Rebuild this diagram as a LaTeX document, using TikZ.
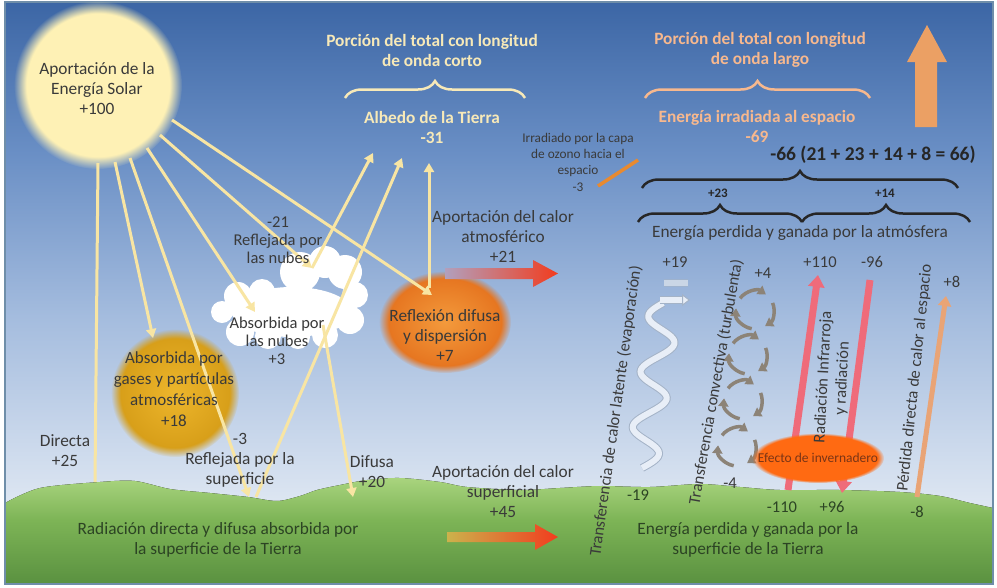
\documentclass[tikz,border=0pt]{standalone}
\usepackage{fontspec}
\setmainfont{Carlito}
\usetikzlibrary{arrows.meta,decorations.pathreplacing,fadings}

\definecolor{ink}{HTML}{3A3A3A}
\definecolor{groundink}{HTML}{2C4424}
\definecolor{cream}{HTML}{F7E9B8}
\definecolor{peach}{HTML}{F7B88E}
\definecolor{ray}{HTML}{F8E5A3}
\definecolor{sunfill}{HTML}{FEF1B5}
\definecolor{skyA}{HTML}{3C66A5}
\definecolor{skyB}{HTML}{6A8FC5}
\definecolor{skyC}{HTML}{A4BCDE}
\definecolor{skyD}{HTML}{DDE6F2}
\definecolor{skyE}{HTML}{EEF2F8}
\definecolor{grassA}{HTML}{A9D47E}
\definecolor{grassB}{HTML}{7DB456}
\definecolor{grassC}{HTML}{5A9140}
\definecolor{goldA}{HTML}{EDB62C}
\definecolor{goldB}{HTML}{D49B16}
\definecolor{orangeA}{HTML}{F39A3C}
\definecolor{orangeB}{HTML}{E4701C}
\definecolor{hotorange}{HTML}{FF6A12}
\definecolor{heatred}{HTML}{F23C1E}
\definecolor{irred}{HTML}{EF6B7A}
\definecolor{lossarrow}{HTML}{E9A476}
\definecolor{upfill}{HTML}{EBA064}
\definecolor{ozone}{HTML}{E88A30}
\definecolor{convgray}{HTML}{8C8377}
\definecolor{latentedge}{HTML}{A4B3C7}
\definecolor{latentfill}{HTML}{E8EEF7}
\definecolor{greenhouseink}{HTML}{7A3516}
\definecolor{frame}{HTML}{6F8EA9}

\pgfdeclareverticalshading{skygrad}{100bp}{color(0bp)=(skyE); color(25bp)=(skyE); color(32bp)=(skyD); color(48bp)=(skyC); color(62bp)=(skyB); color(75bp)=(skyA); color(100bp)=(skyA)}
\pgfdeclareverticalshading{grassgrad}{100bp}{color(0bp)=(grassC); color(25bp)=(grassC); color(55bp)=(grassB); color(75bp)=(grassA); color(100bp)=(grassA)}

\newcommand\txtsize[2]{\fontsize{#1}{#2}\selectfont}

\tikzset{
  lbl/.style={font=\txtsize{17.3}{20}, text=ink, align=center, inner sep=0pt},
  glbl/.style={lbl, text=groundink},
  ttl/.style={font=\txtsize{17.3}{20}\bfseries, align=center, inner sep=0pt},
  smalllbl/.style={font=\txtsize{13.3}{16.3}, text=ink, align=center, inner sep=0pt},
  numlbl/.style={font=\txtsize{16.5}{18}, text=ink, inner sep=0pt},
  vlbl/.style={font=\txtsize{16.5}{19}, text=ink, align=center, inner sep=0pt},
  sunray/.style={draw=ray, line width=3pt},
  sunrayhead/.style={sunray, -{Triangle[width=10pt,length=9pt]}},
  bracebase/.style={decorate, line width=2.5pt, decoration={brace, amplitude=17pt}},
  conv/.style={draw=convgray, line width=3.5pt, -{Triangle[width=10pt,length=8pt]}},
  latent/.style={draw=latentedge, double=latentfill, double distance=6pt, line width=1pt},
  irarrow/.style={draw=irred, line width=7pt, -{Triangle[width=16pt,length=12pt]}},
}

\begin{document}
\begin{tikzpicture}[x=1pt, y=-1pt]
\useasboundingbox (0,0) rectangle (997,587);
\fill[white] (0,0) rectangle (997,587);

% sky and ground
\shade[shading=skygrad] (5,2) rectangle (993,584);
\fill[shading=grassgrad] plot[smooth] coordinates {(5,503) (40,488) (100,482) (135,481) (170,489) (210,493) (248,497) (277,501) (300,496) (317,490) (340,485) (367,480) (400,478) (440,482) (467,487) (520,490) (560,488) (600,486) (650,487) (700,484) (740,487) (780,490) (840,490) (900,492) (940,496) (970,503) (993,508)} -- (993,584) -- (5,584) -- cycle;
\draw[frame, line width=1.2pt] (5,2) rectangle (993,584);

% sun
\fill[sunfill, path fading=circle with fuzzy edge 15 percent] (98,85) circle (84);

% absorbing gases
\shade[inner color=goldA, outer color=goldB, path fading=circle with fuzzy edge 15 percent] (175,393) circle (64);

% diffuse reflection blob
\shade[inner color=orangeA, outer color=orangeB, path fading=circle with fuzzy edge 15 percent] (445,322) ellipse [x radius=66, y radius=51];

% cloud
\fill[white] (292,312) ellipse [x radius=60, y radius=25]
  (300,272) circle (20) (325,262) circle (16) (345,272) circle (17)
  (355,295) circle (13) (350,320) circle (14) (325,335) circle (13)
  (298,337) circle (12) (268,336) circle (13) (240,332) circle (14)
  (222,312) circle (11) (238,296) circle (14) (262,292) circle (13);

% ray end points
\coordinate (s1) at (98,163);   \coordinate (g1) at (95,482);
\coordinate (s2) at (115,162);  \coordinate (gas) at (153,338);
\coordinate (s3) at (130,158);  \coordinate (srf) at (249,497);
\coordinate (srf2) at (256,497); \coordinate (alb3) at (402,158);
\coordinate (s4) at (147,148);  \coordinate (cld) at (255,312);
\coordinate (s5) at (160,135);  \coordinate (cldtop) at (312,268);
\coordinate (alb1) at (373,153);
\coordinate (s6) at (172,120);  \coordinate (dif) at (432,295);
\coordinate (dif2) at (429,288); \coordinate (alb2) at (429,163);
\coordinate (cldin) at (323,325); \coordinate (gdif) at (353,497);

\draw[sunray] (s1) -- (g1);
\draw[sunrayhead] (s2) -- (gas);
\draw[sunrayhead] (s3) -- (srf);
\draw[sunrayhead] (srf2) -- (alb3);
\draw[sunrayhead] (s4) -- (cld);
\draw[sunrayhead] (s5) -- (cldtop);
\draw[sunrayhead] (cldtop) -- (alb1);
\draw[sunrayhead] (s6) -- (dif);
\draw[sunrayhead] (dif2) -- (alb2);
\draw[sunrayhead] (cldin) -- (gdif);

% ozone emission
\coordinate (oz1) at (598,186); \coordinate (oz2) at (638,160);
\draw[ozone, line width=3.5pt] (oz1) -- (oz2);

% braces
\draw[bracebase, draw=cream] (345,98) -- (525,98);
\draw[bracebase, draw=peach] (645,98) -- (870,98);
\draw[bracebase, draw=black!85] (642,188) -- (958,188);
\draw[bracebase, draw=black!85] (638,222) -- (802,222);
\draw[bracebase, draw=black!85] (802,222) -- (970,222);

% long-wave arrow to space
\fill[upfill] (915,127) -- (915,62) -- (907,62) -- (927,25) -- (947,62) -- (937,62) -- (937,127) -- cycle;

% heat transfer arrows
\shade[left color=red!15!skyC, right color=heatred] (445,268) -- (533,268) -- (533,260) -- (558,273.5) -- (533,287) -- (533,279) -- (445,279) -- cycle;
\shade[left color=grassA!60!orange, right color=heatred] (447,532) -- (535,532) -- (535,524) -- (558,537) -- (535,550) -- (535,542) -- (447,542) -- cycle;

% latent heat ribbon
\draw[latent] plot[smooth, domain=0:165, samples=90] ({642+\x*0.14+15*sin(\x*6.5)}, {468-\x});
\draw[latent, -{Triangle[width=12pt,length=8pt,fill=latentfill,color=latentedge]}] (660,300) -- (690,300);
\draw[latent, opacity=0.6] (664,283) -- (688,283);

% convection cells
\foreach \cx/\cy in {755/310, 748/355, 743/400, 737/447}{
  \draw[conv] ([shift={(218:19)}]\cx,\cy) arc[start angle=218, end angle=305, radius=19];
  \draw[conv] ([shift={(338:19)}]\cx,\cy) arc[start angle=338, end angle=418, radius=19];
  \draw[conv] ([shift={(100:19)}]\cx,\cy) arc[start angle=100, end angle=185, radius=19];
}

% infrared exchange
\coordinate (ir1a) at (788,490); \coordinate (ir1b) at (818,275);
\coordinate (ir2a) at (870,280); \coordinate (ir2b) at (842,493);
\draw[irarrow] (ir1a) -- (ir1b);
\draw[irarrow] (ir2a) -- (ir2b);
\coordinate (lossa) at (917,497); \coordinate (lossb) at (946,296);
\draw[draw=lossarrow, line width=5pt, -{Triangle[width=13pt,length=10pt]}] (lossa) -- (lossb);

% greenhouse effect
\fill[hotorange, path fading=circle with fuzzy edge 10 percent] (818,458) ellipse [x radius=66, y radius=25];
\node[font=\txtsize{13.5}{15}, text=greenhouseink, inner sep=0pt] (greenhouse) at (818,458) {Efecto de invernadero};

% labels
\node[lbl] (sunlbl) at (97,89) {Aportación de la\\Energía Solar\\+100};
\node[ttl, text=cream] (swtitle) at (432,50) {Porción del total con longitud\\de onda corto};
\node[ttl, text=cream] (albedo) at (432,127) {Albedo de la Tierra\\-31};
\node[ttl, text=peach] (lwtitle) at (760,50) {Porción del total con longitud\\de onda largo};
\node[ttl, text=peach] (space) at (757,126) {Energía irradiada al espacio\\-69};
\node[smalllbl] (ozonelbl) at (578,162) {Irradiado por la capa\\de ozono hacia el\\espacio\\-3};
\node[font=\txtsize{19.5}{22}\bfseries, text=black!85, inner sep=0pt] (total) at (873,155) {-66 (21 + 23 + 14 + 8 = 66)};
\node[font=\txtsize{13}{14}\bfseries, text=black!85, inner sep=0pt] (p23) at (718,193) {+23};
\node[font=\txtsize{13}{14}\bfseries, text=black!85, inner sep=0pt] (p14) at (885,193) {+14};
\node[lbl] (atmlbl) at (800,233) {Energía perdida y ganada por la atmósfera};
\node[lbl] (atmheat) at (503,236) {Aportación del calor\\atmosférico\\+21};
\node[lbl, font=\txtsize{16.5}{18}] (cloudrefl) at (278,240) {-21\\Reflejada por\\las nubes};
\node[lbl, font=\txtsize{16.5}{18}] (cloudabs) at (277,341) {Absorbida por\\las nubes\\+3};
\node[lbl] (diflbl) at (445,335) {Reflexión difusa\\y dispersión\\+7};
\node[lbl, font=\txtsize{17}{21}] (gaslbl) at (174,389) {Absorbida por\\gases y partículas\\atmosféricas\\+18};
\node[lbl] (directa) at (65,451) {Directa\\+25};
\node[lbl] (surfrefl) at (240,460) {-3\\Reflejada por la\\superficie};
\node[lbl] (difusa) at (372,472) {Difusa\\+20};
\node[glbl] (groundlbl) at (218,540) {Radiación directa y difusa absorbida por\\la superficie de la Tierra};
\node[lbl] (surfheat) at (503,492) {Aportación del calor\\superficial\\+45};
\node[glbl] (surflbl) at (748,540) {Energía perdida y ganada por la\\superficie de la Tierra};

\node[vlbl, rotate=82] (latentlbl) at (616,411) {Transferencia de calor latente (evaporación)};
\node[vlbl, rotate=80] (convlbl) at (716,382) {Transferencia convectiva (turbulenta)};
\node[vlbl, rotate=87] (irlbl) at (833,378) {Radiación Infrarroja\\y radiación};
\node[vlbl, rotate=84] (losslbl) at (915,378) {Pérdida directa de calor al espacio};

\node[numlbl] (n19t) at (675,262) {+19};
\node[numlbl, text=groundink] (n19b) at (638,495) {-19};
\node[numlbl] (n4t) at (763,273) {+4};
\node[numlbl] (n4b) at (730,483) {-4};
\node[numlbl] (n110t) at (820,262) {+110};
\node[numlbl] (n96t) at (872,262) {-96};
\node[numlbl, text=groundink] (n110b) at (782,507) {-110};
\node[numlbl, text=groundink] (n96b) at (832,507) {+96};
\node[numlbl] (n8t) at (952,282) {+8};
\node[numlbl, text=groundink] (n8b) at (917,512) {-8};
\end{tikzpicture}
\end{document}
